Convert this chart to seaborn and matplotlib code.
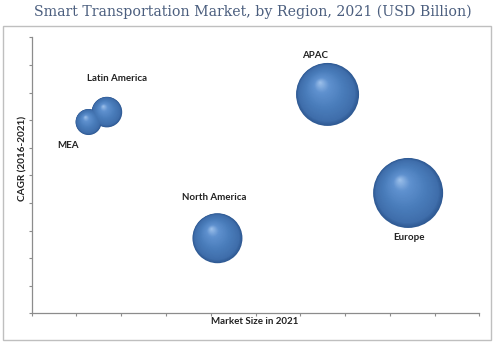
import numpy as np
import pandas as pd
import matplotlib
matplotlib.use("Agg")
import matplotlib.pyplot as plt
from matplotlib.patches import Rectangle
from matplotlib.colors import LinearSegmentedColormap
import seaborn as sns

regions = ["MEA", "Latin America", "North America", "APAC", "Europe"]
market_pos = [1.27, 1.68, 4.15, 6.61, 8.41]      # x position (market size axis)
cagr = [6.93, 7.29, 2.72, 7.93, 4.36]            # y position (CAGR axis)
bubble = [1.38, 1.91, 5.10, 8.10, 10.0]          # bubble size (market size, USD Bn)
label_off = [(-21, -23), (10, 34), (-3, 41), (-13, 39), (1, -45)]  # label offsets in px

df = pd.DataFrame({"region": regions, "x": market_pos, "y": cagr, "size": bubble})

sns.set_theme(style="white")
plt.rcParams["font.family"] = ["Lato", "DejaVu Sans"]

W, H, DPI = 495, 346, 100
fig = plt.figure(figsize=(W / DPI, H / DPI), dpi=DPI)
fig.patch.set_facecolor("white")

x0, x1 = 31.7, 479.3
y0, y1 = 37.3, 313.3
ax = fig.add_axes([x0 / W, 1 - y1 / H, (x1 - x0) / W, (y1 - y0) / H])
ax.set_xlim(0, 10)
ax.set_ylim(0, 10)

SMAX = 2540.0
vmax = max(bubble)

sns.scatterplot(data=df, x="x", y="y", size="size", sizes=(0, SMAX),
                size_norm=(0, vmax), color="#2f5a94", linewidth=0,
                legend=False, ax=ax, zorder=3)

# sphere shading via concentric layers
cmap = LinearSegmentedColormap.from_list(
    "sph", [(0.0, "#2f5a94"), (0.1, "#3f6eab"), (0.4, "#4a7dbb"),
            (0.75, "#5f91cf"), (1.0, "#a0c3ec")])
px_x = (x1 - x0) / 10.0
px_y = (y1 - y0) / 10.0
s_arr = np.array(bubble) / vmax * SMAX
r_px = np.sqrt(s_arr) / 2 * DPI / 72
xs = np.array(market_pos)
ys = np.array(cagr)
hx, hy = -0.24, 0.38
n = 40
for i in range(1, n):
    f = 1 - i / n
    t = i / n
    cx = xs + (1 - f) * hx * r_px / px_x
    cy = ys + (1 - f) * hy * r_px / px_y
    ax.scatter(cx, cy, s=s_arr * f * f, color=cmap(t), linewidth=0, zorder=3 + i * 0.01)

for xv, yv, lab, off in zip(market_pos, cagr, regions, label_off):
    ax.annotate(lab, (xv, yv), xytext=off, textcoords="offset pixels",
                ha="center", va="center", fontsize=7, fontweight="bold",
                color="#222222")

ax.set_xticks(np.arange(0, 11, 1))
ax.set_yticks(np.arange(0, 11, 1))
ax.set_xticklabels([])
ax.set_yticklabels([])
ax.tick_params(axis="both", which="both", direction="out", length=2.5, width=0.8,
               color="#8c8c8c", bottom=True, left=True)
for sp in ["top", "right"]:
    ax.spines[sp].set_visible(False)
for sp in ["left", "bottom"]:
    ax.spines[sp].set_color("#8c8c8c")
    ax.spines[sp].set_linewidth(0.9)
ax.set_xlabel("")
ax.set_ylabel("")

fig.text(255 / W, 1 - 322 / H, "Market Size in 2021", ha="center", va="center",
         fontsize=7, fontweight="bold", color="#222222")
fig.text(23 / W, 1 - 158 / H, "CAGR (2016-2021)", ha="center", va="center",
         rotation=90, fontsize=7.2, fontweight="bold", color="#222222")
fig.text(252.5 / W, 1 - 12 / H, "Smart Transportation Market, by Region, 2021 (USD Billion)",
         ha="center", va="center", fontsize=10.2, color="#4b5e7e",
         family=["DejaVu Serif"])

fig.add_artist(Rectangle((3 / W, 1 - 340 / H), (490.5 - 3) / W, (340 - 25.5) / H,
                         transform=fig.transFigure, fill=False,
                         edgecolor="#bfbfbf", linewidth=1.0))

fig.savefig("out.png", dpi=DPI, facecolor="white")
